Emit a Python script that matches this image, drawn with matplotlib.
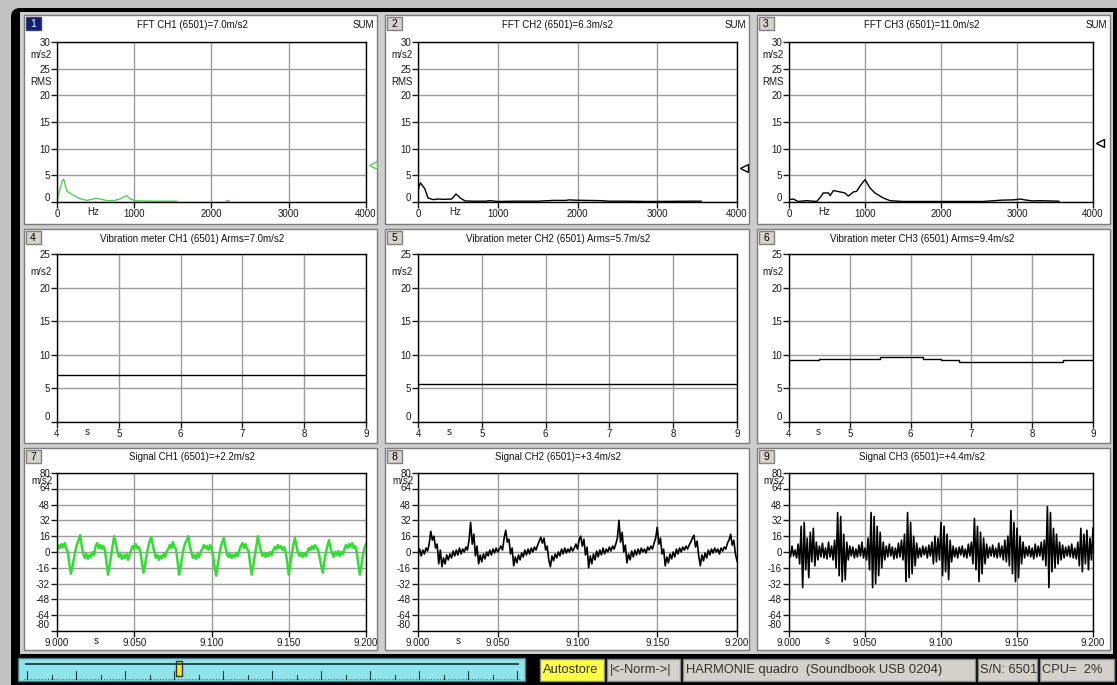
import numpy as np
import matplotlib
matplotlib.use('Agg')
import matplotlib.pyplot as plt
from matplotlib.patches import Rectangle, FancyBboxPatch
from matplotlib.transforms import ScaledTranslation

plt.rcParams['font.family'] = ['Liberation Sans', 'DejaVu Sans']

# ---------------- data ----------------
fft_titles = ["FFT CH1 (6501)=7.0m/s2", "FFT CH2 (6501)=6.3m/s2", "FFT CH3 (6501)=11.0m/s2"]
vib_titles = ["Vibration meter CH1 (6501) Arms=7.0m/s2", "Vibration meter CH2 (6501) Arms=5.7m/s2",
              "Vibration meter CH3 (6501) Arms=9.4m/s2"]
sig_titles = ["Signal CH1 (6501)=+2.2m/s2", "Signal CH2 (6501)=+3.4m/s2", "Signal CH3 (6501)=+4.4m/s2"]

fft_sum = [7.0, 6.3, 11.0]

fft_ch1_freq = [0, 40, 70, 86, 105, 130, 195, 300, 390, 450, 500, 560, 650, 750, 820, 860, 900, 950,
                1010, 1100, 1300, 1550, 1560, 2190, 2230]
fft_ch1_val = [0.2, 2.5, 4.0, 4.3, 3.2, 2.0, 1.4, 0.6, 0.3, 0.5, 0.7, 0.55, 0.25, 0.3, 0.6, 0.9, 1.2, 0.55,
               0.25, 0.2, 0.15, 0.15, np.nan, 0.2, 0.2]

fft_ch2_freq = [0, 10, 30, 60, 85, 110, 125, 190, 250, 330, 420, 450, 475, 500, 530, 590, 700, 850, 900,
                1000, 1200, 1500, 1700, 1850, 1900, 1950, 2100, 2300, 2400, 2600, 2900, 3450, 3550]
fft_ch2_val = [1.7, 2.8, 3.6, 3.0, 2.5, 1.4, 0.75, 0.45, 0.55, 0.5, 0.55, 1.0, 1.5, 1.2, 0.75, 0.2, 0.15,
               0.15, 0.25, 0.1, 0.15, 0.15, 0.3, 0.3, 0.4, 0.35, 0.3, 0.25, 0.15, 0.15, 0.1, 0.15, 0.15]

fft_ch3_freq = [0, 57, 120, 230, 365, 420, 450, 520, 540, 585, 670, 735, 780, 850, 890, 935, 1000, 1065,
                1130, 1240, 1330, 1500, 2400, 2550, 2800, 2950, 3050, 3100, 3200, 3300, 3550]
fft_ch3_val = [0.45, 0.55, 0.1, 0.25, 0.1, 1.0, 1.7, 1.7, 1.2, 2.15, 1.9, 1.7, 1.1, 1.9, 2.0, 3.0, 4.2,
               2.65, 1.7, 0.75, 0.25, 0.1, 0.1, 0.1, 0.35, 0.4, 0.55, 0.4, 0.2, 0.25, 0.15]

vib_ch1_t = [4.0, 9.0]
vib_ch1 = [7.0, 7.0]
vib_ch2_t = [4.0, 9.0]
vib_ch2 = [5.7, 5.7]
vib_ch3_t = [4.0, 4.5, 5.5, 6.2, 6.5, 6.8, 8.5, 9.0]
vib_ch3 = [9.2, 9.4, 9.7, 9.4, 9.2, 9.0, 9.2, 9.2]

sig_ch1 = [2, 7, 4, 8, 5, 9, 3, 0, -12, -22, -15, -6, 2, 8, 12, 17, 6, -2, -6, -2,
           -7, -3, -5, 0, -3, 6, 9, 4, 7, 3, 6, 2, -10, -23, -14, -4, 6, 16, 9, 1,
           -5, -2, -7, -3, -6, -2, -8, -3, 2, 6, 3, 8, 4, 5, 0, -11, -21, -13, -3, 5,
           11, 15, 7, 0, -6, -3, -8, -4, -6, -2, -5, 1, 3, 7, 4, 10, 5, 3, -9, -23,
           -15, -5, 4, 9, 12, 16, 6, -1, -6, -3, -7, -2, -5, 0, 3, 7, 4, 6, 2, 7,
           3, -4, -15, -24, -13, -4, 5, 10, 14, 5, -2, -5, -2, -6, -3, -5, -1, -4, 2, 6,
           9, 4, 8, 3, 1, -12, -23, -14, -4, 6, 16, 8, 1, -4, -1, -5, -2, -4, 0, -3,
           2, 5, 3, 7, 4, 6, 2, 5, 0, -10, -23, -12, -2, 8, 14, 6, -1, -4, -1, -5,
           -2, -4, 0, 4, 2, 6, 3, 7, 4, 2, -6, -14, -21, -10, -1, 6, 12, 4, -1, -5,
           0, -3, 1, -4, 0, -2, 3, 7, 4, 8, 5, 9, 4, 6, 0, -12, -23, -14, -3, 4, 8]

sig_ch2 = [-3, 3, -4, 2, -2, 4, 1, 8, 21, 12, 16, 4, 8, -12, 2, -15, -6, -12, -3, -8,
           -2, -6, 1, -4, 2, -3, 4, -2, 3, 0, 5, 2, 12, 30, 8, 18, -4, 6, -12, -3,
           -10, -2, -7, 0, -4, 2, -3, 3, -1, 4, 0, 3, 6, 2, 14, 22, 10, 13, -2, 4,
           -14, -5, -11, -3, -8, -1, -5, 2, -3, 3, -2, 4, 0, 5, 2, 7, 11, 15, 9, 14,
           2, 6, -8, -15, -4, -9, -2, -6, 0, -4, 3, -2, 4, -1, 3, 0, 5, 1, 4, 8,
           3, 12, 16, 6, 13, -3, 5, -16, -4, -12, -2, -8, 1, -5, 2, -3, 4, -2, 3, 0,
           5, 1, 6, 3, 8, 14, 32, 10, 20, 0, 7, -11, -2, -8, 1, -5, 2, -3, 3, -2,
           4, 0, 3, -1, 5, 2, 6, 3, 9, 14, 25, 8, 14, -2, 3, -14, -5, -11, -2, -7,
           0, -5, 3, -2, 4, 0, 5, 2, 6, 3, 7, 10, 14, 17, 5, 11, -4, -14, -3, -9,
           -1, -6, 2, -3, 3, -1, 4, 0, 3, -2, 4, 1, 5, 3, 9, 12, 18, 7, 12, -2, -9]

sig_ch3 = [3, -5, 6, -4, 2, -6, 8, -12, 26, -36, 30, -18, 14, -26, 20, -10, 24, -14, 10, -8,
           6, -5, 9, -6, 4, -7, 10, -5, 6, -8, 12, -16, 40, -24, 36, -30, 18, -28, 10, -8,
           6, -4, 5, -6, 3, -5, 7, -4, 10, -6, 4, -8, 14, -18, 40, -36, 36, -32, 26, -24,
           20, -16, 10, -8, 6, -5, 8, -4, 5, -7, 4, -6, 9, -5, 12, -8, 18, -30, 40, -26,
           30, -22, 16, -14, 9, -6, 4, -5, 6, -3, 5, -6, 7, -4, 10, -12, 16, -10, 14, -8,
           30, -24, 26, -20, 18, -28, 12, -10, 6, -5, 4, -6, 5, -3, 6, -5, 3, -6, 8, -4,
           10, -12, 34, -18, 26, -30, 20, -22, 14, -12, 8, -6, 5, -4, 7, -5, 4, -6, 9, -5,
           6, -8, 12, -10, 16, -14, 42, -22, 30, -30, 24, -26, 16, -12, 10, -6, 5, -4, 6, -5,
           4, -7, 8, -5, 6, -4, 10, -8, 12, -14, 46, -36, 40, -20, 24, -16, 18, -12, 10, -8,
           7, -6, 5, -4, 6, -5, 8, -6, 4, -7, 10, -14, 24, -20, 18, -12, 22, -18, 14, -8, 24]

sig_time = 9.0 + np.arange(len(sig_ch1)) / 1000.0

fft_xticks = [0, 1000, 2000, 3000, 4000]
fft_xlabels = ["0", "1000", "2000", "3000", "4000"]
fft_yticks = [0, 5, 10, 15, 20, 25, 30]
vib_xticks = [4, 5, 6, 7, 8, 9]
vib_yticks = [0, 5, 10, 15, 20, 25]
sig_xticks = [9.0, 9.05, 9.1, 9.15, 9.2]
sig_xlabels = ["9.000", "9.050", "9.100", "9.150", "9.200"]
sig_yticks = [-80, -64, -48, -32, -16, 0, 16, 32, 48, 64, 80]

status_texts = ["Autostore", "|<-Norm->|", "HARMONIE quadro  (Soundbook USB 0204)", "S/N: 6501", "CPU=  2%"]

# ---------------- layout ----------------
W, H = 1117, 685
fig = plt.figure(figsize=(W / 100, H / 100), dpi=100)
fig.patch.set_facecolor('#c2c2c2')

bg = fig.add_axes([0, 0, 1, 1])
bg.set_xlim(0, W)
bg.set_ylim(H, 0)
bg.axis('off')

GREEN_FFT = '#55cc55'
GREEN_SIG = '#33dd33'
GRID = '#9c9c9c'
PANEL_GRAY = '#cdcdcd'

bg.add_patch(FancyBboxPatch((11, 8), W, H, boxstyle='round,pad=0,rounding_size=9',
                            fc='black', ec='none'))
bg.add_patch(Rectangle((20, 12), 1093, 642, fc=PANEL_GRAY, ec='none'))

cols_panel = [(24, 377), (385, 749), (757, 1110)]
rows_panel = [(15, 224), (229, 443), (448, 650)]
cols_axes = [(57, 366), (418, 737), (789, 1093)]
rows_axes = [(42, 202), (254, 422), (473, 631)]
title_x = [192, 558, 922]
title_y = [25, 239, 457]

FS = 7
px = fig.dpi_scale_trans


def shift(dx, dy):
    return ScaledTranslation(dx / 100, dy / 100, px)


def shift_ylabel(ax, value, dy):
    locs = ax.get_yticks()
    ticks = ax.yaxis.get_major_ticks()
    for tk, loc in zip(ticks, locs):
        if abs(loc - value) < 1e-9:
            tk.label1.set_transform(tk.label1.get_transform() + shift(0, dy))


def make_axes(r, c):
    x0, x1 = cols_axes[c]
    y0, y1 = rows_axes[r]
    ax = fig.add_axes([x0 / W, 1 - y1 / H, (x1 - x0) / W, (y1 - y0) / H])
    ax.set_facecolor('white')
    for sp in ax.spines.values():
        sp.set_color('black')
        sp.set_linewidth(1)
    ax.grid(True, color=GRID, lw=1)
    ax.set_axisbelow(True)
    return ax


def style_ticks(ax):
    ax.tick_params(direction='out', length=4, width=1, labelsize=FS, pad=1,
                   colors='#1a1a1a')


# panels, number boxes, titles
for r in range(3):
    for c in range(3):
        x0, x1 = cols_panel[c]
        y0, y1 = rows_panel[r]
        bg.add_patch(Rectangle((x0, y0), x1 - x0, y1 - y0, fc='white', ec='#7c7c7c', lw=1))
        n = r * 3 + c + 1
        active = (n == 1)
        bg.add_patch(Rectangle((x0 + 1.5, y0 + 2), 15, 13,
                               fc='#0a1f78' if active else '#d6d3cc',
                               ec='#404060' if active else '#808080', lw=1))
        bg.text(x0 + 9, y0 + 8.8, str(n), ha='center', va='center', fontsize=7.5,
                color='white' if active else 'black')

titles = [fft_titles, vib_titles, sig_titles]
for r in range(3):
    for c in range(3):
        bg.text(title_x[c], title_y[r], titles[r][c], ha='center', va='center',
                fontsize=FS, color='#111111')
for c in range(3):
    bg.text(cols_panel[c][1] - 3, title_y[0], 'SUM', ha='right', va='center',
            fontsize=FS, color='#111111')

# ---------------- FFT row ----------------
fft_data = [(fft_ch1_freq, fft_ch1_val, GREEN_FFT),
            (fft_ch2_freq, fft_ch2_val, 'black'),
            (fft_ch3_freq, fft_ch3_val, 'black')]
for c, (f, v, col) in enumerate(fft_data):
    ax = make_axes(0, c)
    ax.plot(f, v, color=col, lw=1)
    ax.set_xlim(0, 4000)
    ax.set_ylim(0, 30)
    ax.set_xticks(fft_xticks)
    ax.set_xticklabels(fft_xlabels)
    ax.set_yticks(fft_yticks)
    style_ticks(ax)
    shift_ylabel(ax, 0, 5)
    ytr = ax.get_yaxis_transform() + shift(-5, 0)
    ax.text(0, 27.6, 'm/s2', transform=ytr, ha='right', va='center', fontsize=FS, color='#1a1a1a')
    ax.text(0, 22.5, 'RMS', transform=ytr, ha='right', va='center', fontsize=FS, color='#1a1a1a')
    ax.text(0.117, 0, 'Hz', transform=ax.transAxes + shift(0, -5), ha='center', va='top',
            fontsize=FS, color='#1a1a1a')
    ax.plot([1], [fft_sum[c]], marker='<', mfc='none', mec=col, ms=6, mew=1,
            transform=ax.get_yaxis_transform() + shift(7, 0), clip_on=False)

# ---------------- Vibration row ----------------
vib_data = [(vib_ch1_t, vib_ch1), (vib_ch2_t, vib_ch2), (vib_ch3_t, vib_ch3)]
for c, (t, v) in enumerate(vib_data):
    ax = make_axes(1, c)
    ax.plot(t, v, color='black', lw=1, drawstyle='steps-post')
    ax.set_xlim(4, 9)
    ax.set_ylim(0, 25)
    ax.set_xticks(vib_xticks)
    ax.set_yticks(vib_yticks)
    style_ticks(ax)
    shift_ylabel(ax, 0, 6)
    ytr = ax.get_yaxis_transform() + shift(-5, 0)
    ax.text(0, 22.3, 'm/s2', transform=ytr, ha='right', va='center', fontsize=FS, color='#1a1a1a')
    ax.text(0.097, 0, 's', transform=ax.transAxes + shift(0, -5), ha='center', va='top',
            fontsize=FS, color='#1a1a1a')

# ---------------- Signal row ----------------
sig_data = [(sig_ch1, GREEN_SIG, 1.8), (sig_ch2, 'black', 1.2), (sig_ch3, 'black', 1.2)]
for c, (v, col, lw) in enumerate(sig_data):
    ax = make_axes(2, c)
    ax.plot(sig_time, v, color=col, lw=lw)
    ax.set_xlim(9.0, 9.2)
    ax.set_ylim(-80, 80)
    ax.set_xticks(sig_xticks)
    ax.set_xticklabels(sig_xlabels)
    ax.set_yticks(sig_yticks)
    ax.set_yticklabels([str(y) for y in sig_yticks])
    style_ticks(ax)
    shift_ylabel(ax, 64, 2)
    shift_ylabel(ax, -80, 7)
    ytr = ax.get_yaxis_transform() + shift(-4, 0)
    ax.text(0, 72, 'm/s2', transform=ytr, ha='right', va='center', fontsize=FS, color='#1a1a1a')
    ax.text(0.126, 0, 's', transform=ax.transAxes + shift(0, -5), ha='center', va='top',
            fontsize=FS, color='#1a1a1a')

# ---------------- status bar ----------------
bg.add_patch(Rectangle((18, 658), 507, 23, fc='#8fe4ec', ec='#4a7c80', lw=1))
bg.plot([26, 518], [664, 664], color='#1c3c40', lw=1.3)
bg.plot([24, 520], [679, 679], color='#3a6a70', lw=0.8, ls=':')
for i, xt in enumerate(np.arange(27, 522, 24.5)):
    major = (i % 2 == 0)
    bg.plot([xt, xt], [671 if major else 675, 679], color='#1c3c40', lw=0.8)
bg.add_patch(Rectangle((176, 661), 6, 15, fc='#f2ee10', ec='#303030', lw=1))

box_spans = [(540, 604), (607, 680), (683, 975), (978, 1037), (1040, 1114)]
box_colors = ['#ffff44', '#d4d1ca', '#d4d1ca', '#d4d1ca', '#d4d1ca']
for (bx0, bx1), txt, fc in zip(box_spans, status_texts, box_colors):
    bg.add_patch(Rectangle((bx0, 659), bx1 - bx0, 22, fc=fc, ec='#8a8a8a', lw=1))
    bg.text(bx0 + 2.5, 670, txt, ha='left', va='center', fontsize=9.3, color='#303030')

fig.savefig('out.png', dpi=100, facecolor=fig.get_facecolor())
